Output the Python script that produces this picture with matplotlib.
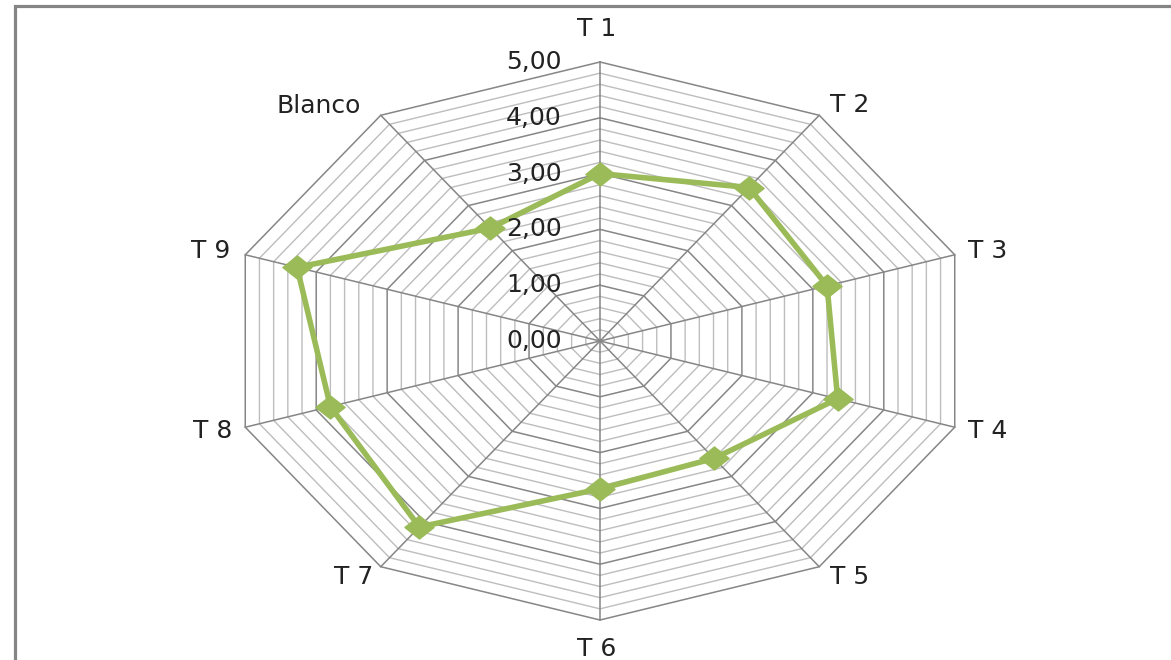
import numpy as np
import matplotlib
matplotlib.use("Agg")
import matplotlib.pyplot as plt
from matplotlib.patches import Rectangle
from matplotlib.path import Path

# Data
categories = ["T 1", "T 2", "T 3", "T 4", "T 5", "T 6", "T 7", "T 8", "T 9", "Blanco"]
values = [3.0, 3.4, 3.2, 3.35, 2.6, 2.65, 4.12, 3.8, 4.27, 2.5]
tick_values = [0.0, 1.0, 2.0, 3.0, 4.0, 5.0]
tick_labels = ["0,00", "1,00", "2,00", "3,00", "4,00", "5,00"]
r_max = 5.0
minor_step = 0.2

W, H, DPI = 1171, 660, 100
fig = plt.figure(figsize=(W / DPI, H / DPI), dpi=DPI)
fig.patch.set_facecolor("white")
ax = fig.add_axes([0, 0, 1, 1])
ax.set_axis_off()

# pixel scale of one data unit (chart is wider than tall)
sx, sy = 74.6, 55.8
cx, cy = 600, 341
ax.set_xlim(-cx / sx, (W - cx) / sx)
ax.set_ylim(-(H - cy) / sy, cy / sy)

n = len(categories)
theta = np.arange(n) * 2 * np.pi / n
dx, dy = np.sin(theta), np.cos(theta)

major_c = "#868686"
minor_c = "#bdbdbd"

# concentric polygon gridlines
levels = np.round(np.arange(minor_step, r_max + 1e-9, minor_step), 2)
for lv in levels:
    is_major = abs(lv - round(lv)) < 1e-6
    xs = np.append(lv * dx, lv * dx[0])
    ys = np.append(lv * dy, lv * dy[0])
    ax.plot(xs, ys, color=major_c if is_major else minor_c,
            lw=1.1 if is_major else 1.0, zorder=2 if is_major else 1,
            solid_joinstyle="miter")

# spokes
for i in range(n):
    ax.plot([0, r_max * dx[i]], [0, r_max * dy[i]], color=major_c, lw=1.1, zorder=2)

# data series
xs = np.append(np.array(values) * dx, values[0] * dx[0])
ys = np.append(np.array(values) * dy, values[0] * dy[0])
green = "#9bbb59"
ax.plot(xs, ys, color=green, lw=4.0, zorder=4, solid_joinstyle="round")
diamond = Path([(-1, 0), (0, 0.79), (1, 0), (0, -0.79), (-1, 0)],
               [Path.MOVETO, Path.LINETO, Path.LINETO, Path.LINETO, Path.CLOSEPOLY])
ax.plot(np.array(values) * dx, np.array(values) * dy, linestyle="none",
        marker=diamond, markersize=21, color=green, zorder=5)

font = "DejaVu Sans"
fs = 18
txt_c = "#222222"

# value axis labels
for v, lab in zip(tick_values, tick_labels):
    ax.annotate(lab, xy=(0, v), xytext=(-38, 0), textcoords="offset pixels",
                ha="right", va="center", fontsize=fs, family=font, color=txt_c,
                zorder=6)

# category labels
offsets = [(-3, 33, "center"), (11, 10, "left"), (13, 4, "left"), (13, -4, "left"),
           (11, -10, "left"), (-3, -29, "center"), (-8, -10, "right"),
           (-13, -4, "right"), (-15, 4, "right"), (-20, 9, "right")]
for i, lab in enumerate(categories):
    ox, oy, ha = offsets[i]
    ax.annotate(lab, xy=(r_max * dx[i], r_max * dy[i]), xytext=(ox, oy),
                textcoords="offset pixels", ha=ha, va="center", fontsize=fs,
                family=font, color=txt_c, zorder=6)

# chart frame (extends past the right and bottom edges)
frame = Rectangle((14.5 / W, -0.05), 1.2, 1 - 5.5 / H + 0.05,
                  transform=ax.transAxes, fill=False, edgecolor="#858585",
                  lw=2.3, clip_on=False, zorder=7)
ax.add_patch(frame)

fig.savefig("out.png", dpi=DPI, facecolor="white")
